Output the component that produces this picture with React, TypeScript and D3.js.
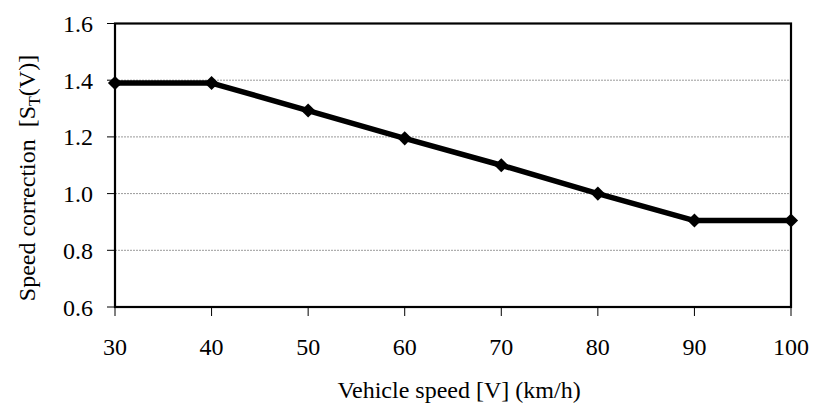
import React from "react";
import * as d3 from "d3";

// speed (km/h) vs correction factor S_T(V)
const speeds = [30, 40, 50, 60, 70, 80, 90, 100];
const corrections = [1.39, 1.39, 1.293, 1.195, 1.1, 1.0, 0.905, 0.905];
const xTicks = [30, 40, 50, 60, 70, 80, 90, 100];
const yTicks = [0.6, 0.8, 1.0, 1.2, 1.4, 1.6];
const gridTicks = [0.8, 1.0, 1.2, 1.4];

const W = 813;
const H = 405;
const margin = { top: 23.5, right: 22, bottom: 98, left: 115 };
const FONT = "Liberation Serif, Times New Roman, DejaVu Serif, serif";

export default function App() {
  const x = d3
    .scaleLinear()
    .domain([30, 100])
    .range([margin.left, W - margin.right]);
  const y = d3
    .scaleLinear()
    .domain([0.6, 1.6])
    .range([H - margin.bottom, margin.top]);

  const pts = speeds.map((s, i) => [s, corrections[i]] as [number, number]);
  const line = d3
    .line<[number, number]>()
    .x((d) => x(d[0]))
    .y((d) => y(d[1]));
  const diamond = d3.symbol(d3.symbolSquare, 100)() as string;

  const x0 = x(30);
  const x1 = x(100);
  const yTop = y(1.6);
  const yBot = y(0.6);
  const txt = { fontFamily: FONT };

  return (
    <svg
      width={W}
      height={H}
      style={{ position: "absolute", left: 0, top: 0, background: "#fff", fontFamily: FONT }}
    >
      {/* grid */}
      {gridTicks.map((t) => (
        <line
          key={"g" + t}
          x1={x0}
          x2={x1}
          y1={y(t)}
          y2={y(t)}
          stroke="#9a9a9a"
          strokeWidth={1}
          strokeDasharray="2,1"
        />
      ))}

      {/* frame */}
      <rect
        x={x0}
        y={yTop}
        width={x1 - x0}
        height={yBot - yTop}
        fill="none"
        stroke="#000"
        strokeWidth={2.2}
      />

      {/* y ticks + labels */}
      {yTicks.map((t) => (
        <g key={"y" + t}>
          <line x1={x0 - 8} x2={x0} y1={y(t)} y2={y(t)} stroke="#000" strokeWidth={1} />
          <text x={93} y={y(t) + 8.5} textAnchor="end" fontSize={24} fill="#000" style={txt}>
            {d3.format(".1f")(t)}
          </text>
        </g>
      ))}

      {/* x ticks + labels */}
      {xTicks.map((t) => (
        <g key={"x" + t}>
          <line x1={x(t)} x2={x(t)} y1={yBot} y2={yBot + 9} stroke="#000" strokeWidth={1} />
          <text x={x(t)} y={355} textAnchor="middle" fontSize={24} fill="#000" style={txt}>
            {t}
          </text>
        </g>
      ))}

      {/* series */}
      <path d={line(pts) as string} fill="none" stroke="#000" strokeWidth={5.5} strokeLinejoin="round" />
      {pts.map((d, i) => (
        <path
          key={"m" + i}
          d={diamond}
          transform={`translate(${x(d[0])},${y(d[1])}) rotate(45)`}
          fill="#000"
        />
      ))}

      {/* axis titles */}
      <text x={(x0 + x1) / 2 + 6} y={398} textAnchor="middle" fontSize={24} fill="#000" style={txt}>
        Vehicle speed [V] (km/h)
      </text>
      <text
        transform={`translate(35,178) rotate(-90)`}
        textAnchor="middle"
        fontSize={24}
        fill="#000"
        style={{ ...txt, whiteSpace: "pre" }}
      >
        {"Speed correction  [S"}
        <tspan fontSize={16} dy={5}>T</tspan>
        <tspan dy={-5}>{"(V)]"}</tspan>
      </text>
    </svg>
  );
}
